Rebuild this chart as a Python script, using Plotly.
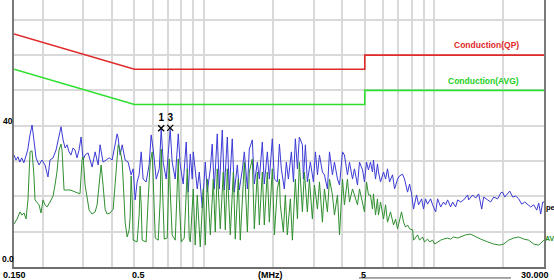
import numpy as np
import plotly.graph_objects as go

# ---------------- data ----------------
peak_mhz = [0.150,0.153,0.156,0.159,0.162,0.1655,0.169,0.172,0.176,0.1797,
            0.183,0.187,0.1926,0.1984,0.2045,0.2107,0.215,0.2216,0.2283,0.2353,
            0.240,0.245,0.250,0.255,0.260,0.265,0.2707,0.276,0.2817,0.2874,
            0.2933,0.2993,0.3053,0.3146,0.321,0.3275,0.3376,0.3478,0.3547,
            0.3654,0.3768,0.3885,0.4002,0.4122,0.4205,0.425,0.4333,0.4424,0.4556,
            0.4695,0.4838,0.4937,0.5037,0.5137,0.5241,0.535,0.5454,0.562,0.5791,
            0.591,0.603,0.6217,0.6408,0.6533,0.6665,0.6868,0.7149,0.7292,0.7518,
            0.775,0.790,0.8142,0.839,0.8563,
            0.874,0.891,0.9005,0.937,0.956,0.9853,1.0156,1.0355,1.0677,1.088,
            1.111,1.1443,1.168,1.2034,1.2284,1.2654,1.2904,1.3297,1.357,1.3988,
            1.4262,1.470,1.500,1.5465,1.5765,1.6245,1.6575,1.7085,1.743,1.7955,
            1.8315,1.888,1.926,1.984,2.026,2.086,2.130,
            2.171,2.237,2.283,2.330,2.401,2.451,2.498,2.551,2.600,2.681,
            2.707,2.762,2.817,2.902,2.993,3.053,3.116,3.179,3.274,3.340,
            3.442,3.514,3.619,3.693,3.806,3.885,4.002,4.081,4.205,4.292,
            4.424,4.510,4.650,4.743,4.890,4.985,5.089,5.189,
            5.293,5.402,5.454,5.568,5.677,5.734,5.853,6.032,6.157,6.276,
            6.408,6.599,6.736,6.939,7.077,7.292,7.441,7.593,7.668,7.826,
            7.984,8.142,8.390,8.563,8.826,8.999,9.179,9.367,9.654,9.853,
            10.156,10.355,10.677,10.998,11.216,11.443,11.794,12.034,12.403,12.654,
            13.035,
            13.440,13.988,14.119,14.703,15.15,15.615,16.095,16.41,17.085,17.61,
            18.135,18.88,19.465,19.843,20.258,20.862,21.297,21.939,22.599,23.298,
            24.008,24.745,25.505,26.266,27.074,27.906,28.453,29.023,29.617,30.0]
peak_dbuv = [31.7,30.3,31.2,29.7,30.9,29.5,31.4,33.1,37.4,40.2,
             36.0,30.9,28.9,30.3,28.9,25.5,30.3,30.9,33.1,37.4,
             39.7,36.0,33.7,34.6,32.6,31.7,33.7,33.1,30.9,33.1,
             36.8,30.3,31.7,32.3,30.3,28.3,32.6,28.9,34.6,
             29.7,30.3,30.9,30.3,34.6,37.7,36.5,31.7,34.6,30.3,
             29.7,26.1,27.8,19.0,24.1,26.1,32.6,24.9,24.1,28.9,
             37.4,33.4,24.9,27.8,39.0,29.7,24.9,39.0,29.7,24.9,
             37.7,28.9,23.5,35.4,21.2,
             32.0,24.9,32.6,22.1,26.9,16.7,29.7,21.2,27.8,34.8,
             22.1,37.7,22.1,38.8,21.8,36.8,21.8,36.3,21.2,28.9,
             21.8,27.5,32.6,22.1,33.4,36.0,23.5,29.7,24.9,35.4,
             23.5,32.6,24.9,36.3,24.9,24.1,34.8,
             27.8,22.1,29.7,24.9,32.6,24.1,36.3,27.8,36.8,34.6,
             24.9,34.6,24.1,29.7,24.1,32.6,26.1,31.7,26.9,26.1,
             22.1,32.6,26.1,29.7,24.9,23.2,32.6,31.7,26.1,29.7,
             24.9,27.8,23.2,29.7,27.5,24.1,29.7,27.5,
             29.7,26.9,30.3,24.9,29.2,26.9,24.1,26.9,24.9,27.8,
             24.1,26.1,22.1,24.9,25.8,26.3,24.9,22.9,21.2,23.5,
             20.7,16.4,20.4,17.6,19.3,16.4,19.3,17.8,19.3,17.6,
             15.6,19.3,17.0,18.4,17.6,19.0,17.0,18.4,17.0,19.0,
             18.4,
             19.0,20.4,19.0,20.4,19.5,20.7,16.4,19.8,19.0,18.4,
             19.8,19.3,21.0,21.2,19.8,20.7,21.5,19.8,20.1,19.3,
             17.8,18.4,17.6,17.0,17.6,16.1,18.1,15.0,18.4,18.4]

avg_mhz = [0.150,0.1547,0.1593,0.1625,0.1658,0.1692,0.1725,0.1743,0.1761,0.1796,
           0.183,0.1851,0.1888,0.1926,0.1965,0.2005,0.2045,0.2086,0.215,0.2216,
           0.226,0.2305,0.2353,0.240,0.2425,0.2474,0.2524,0.2627,0.2707,0.2791,
           0.2902,0.2962,0.2993,0.3053,0.3116,0.3179,0.3275,0.3376,0.3442,0.3514,
           0.3583,
           0.3654,0.3729,0.3806,0.3922,0.4043,0.4164,0.425,0.4333,0.4424,0.451,
           0.4556,0.465,0.4743,0.479,0.4838,0.489,0.4937,0.5137,0.5241,0.5293,
           0.535,0.5402,0.562,0.5734,0.5853,0.5972,0.6091,0.6157,0.6342,0.6468,
           0.6533,0.6599,0.6736,0.6939,0.7077,0.7149,0.7292,0.7518,0.775,0.7826,
           0.7984,0.8225,0.848,0.8563,0.8646,
           0.874,0.9005,0.918,0.937,0.9655,0.9948,1.0156,1.0355,1.0677,1.0998,
           1.1216,1.1443,1.1794,1.2153,1.2404,1.2654,1.3035,1.344,1.370,1.412,
           1.4405,1.4846,1.500,1.5465,1.5765,1.6245,1.6575,1.7085,1.743,1.7955,
           1.8315,1.888,1.926,1.984,2.026,2.086,2.130,
           2.150,2.216,2.260,2.305,2.377,2.425,2.498,2.551,2.600,2.681,
           2.734,2.817,2.874,2.962,3.023,3.116,3.179,3.274,3.340,3.442,
           3.514,3.619,3.693,3.806,3.885,4.002,4.081,4.205,4.292,4.424,
           4.510,4.650,4.743,4.838,4.985,5.089,5.189,
           5.293,5.402,5.454,5.568,5.677,5.734,5.853,6.032,6.157,6.276,
           6.468,6.665,6.802,6.939,7.220,7.369,7.518,7.668,7.826,8.067,
           8.142,8.480,8.646,8.909,9.089,9.367,9.560,9.853,10.052,10.355,
           10.677,10.998,11.443,11.794,12.153,12.654,13.035,
           13.702,14.405,15.15,15.93,17.085,18.135,19.258,20.05,21.07,22.165,
           23.298,24.507,25.743,27.074,28.453,29.332,30.0]
avg_dbuv = [12.2,13.6,15.6,14.7,15.3,13.6,19.0,27.5,32.6,32.9,
            26.1,19.0,18.4,17.6,15.3,19.0,17.6,17.0,18.4,20.1,
            23.2,26.9,33.1,34.8,33.1,21.8,21.8,21.8,21.5,21.2,
            20.7,30.3,31.2,23.2,19.0,16.1,15.0,15.6,17.6,23.2,
            28.9,
            23.2,16.4,15.0,15.3,16.4,27.5,34.6,33.1,29.7,19.0,
            12.7,8.5,10.5,14.2,25.8,19.0,7.6,7.1,14.7,22.9,
            17.6,7.6,7.1,19.0,29.5,32.6,19.0,8.2,7.6,19.0,
            33.4,24.6,7.9,8.2,30.6,21.8,9.1,7.6,30.6,19.0,
            7.1,8.2,27.8,19.0,7.9,
            7.1,22.1,6.2,20.4,5.7,22.1,6.2,24.9,9.1,24.9,
            9.9,27.8,10.8,26.9,10.5,27.8,9.1,26.9,7.9,24.9,
            7.6,26.1,29.7,9.9,26.9,30.6,10.8,26.9,11.9,26.9,
            11.9,26.9,12.7,27.8,9.1,22.1,24.9,
            17.6,9.9,20.4,9.1,19.3,7.6,24.9,13.6,29.7,15.6,
            26.9,15.6,24.9,13.6,23.2,16.4,24.1,12.7,22.1,15.6,
            24.9,20.4,14.7,20.4,9.1,24.9,17.6,24.9,18.4,22.1,
            20.4,17.6,22.1,19.3,15.6,24.1,20.4,
            20.4,16.4,20.7,14.7,19.3,14.7,18.4,13.6,17.6,12.7,
            15.6,11.9,13.6,10.8,15.6,12.7,11.3,11.9,10.8,10.5,
            7.6,9.1,7.6,8.5,7.1,7.9,7.1,7.6,6.5,7.1,
            7.6,7.9,8.2,7.9,8.5,8.2,8.5,
            9.1,9.3,8.5,7.9,7.1,6.5,6.2,6.5,7.6,8.2,
            8.5,7.9,7.6,6.5,6.2,7.1,7.6]

limit_mhz = [0.15, 0.5, 5, 5, 30]
qp_limit_dbuv = [66, 56, 56, 60, 60]
avg_limit_dbuv = [56, 46, 46, 50, 50]

marker_mhz = [0.6533, 0.7149]
marker_dbuv = [39.3, 39.4]
marker_labels = ["1", "3"]

grid_mhz = [0.2, 0.3, 0.4, 0.5, 0.6, 0.7, 0.8, 0.9, 1, 2, 3, 4, 5, 6, 7, 8, 9, 10, 20]
grid_dbuv = [0, 10, 20, 30, 40, 50, 60, 70]
x_tick_text = ["0.150", "0.5", "(MHz)", "5", "30.000"]
y_tick_text = ["40", "0.0"]

# ---------------- figure ----------------
FONT = "Liberation Sans"
fig = go.Figure()

fig.add_trace(go.Scatter(x=limit_mhz, y=qp_limit_dbuv, mode="lines",
                         line=dict(color="#e02a2a", width=1.6), hoverinfo="skip"))
fig.add_trace(go.Scatter(x=limit_mhz, y=avg_limit_dbuv, mode="lines",
                         line=dict(color="#2ee02e", width=1.6), hoverinfo="skip"))
fig.add_trace(go.Scatter(x=peak_mhz, y=peak_dbuv, mode="lines",
                         line=dict(color="#3b3bd6", width=1)))
fig.add_trace(go.Scatter(x=avg_mhz, y=avg_dbuv, mode="lines",
                         line=dict(color="#2f8f2f", width=1)))
fig.add_trace(go.Scatter(x=marker_mhz, y=marker_dbuv, mode="markers+text",
                         text=["<b>%s</b>" % s for s in marker_labels],
                         textposition="top center",
                         textfont=dict(family=FONT, size=10, color="black"),
                         marker=dict(symbol="x-thin", size=6,
                                     line=dict(width=1.3, color="black"))))

fig.update_layout(
    width=554, height=280,
    margin=dict(l=14, r=10, t=0, b=13),
    paper_bgcolor="white", plot_bgcolor="white",
    showlegend=False,
)
fig.update_xaxes(type="log", range=[np.log10(0.15), np.log10(30)],
                 tickvals=grid_mhz, showticklabels=False, ticks="",
                 showgrid=True, gridcolor="#d9d9d9", gridwidth=1.5,
                 zeroline=False, showline=True, linecolor="#6e6e6e", linewidth=2)
fig.update_yaxes(range=[0, 75.6], tickvals=grid_dbuv, showticklabels=False, ticks="",
                 showgrid=True, gridcolor="#d9d9d9", gridwidth=1.5,
                 zeroline=False, showline=True, linecolor="#7a7a7a", linewidth=2,
                 mirror=True)

PW = 530.0  # plot width in px, used only to place text
def px(xp):
    return (xp - 14) / PW

ann = []
x_label_px = [14, 138, 270, 363, 535]
for xp, t in zip(x_label_px, x_tick_text):
    ann.append(dict(x=px(xp), xref="paper", y=-0.03, yref="paper",
                    text="<b>%s</b>" % t, showarrow=False, xanchor="center",
                    yanchor="middle", font=dict(family=FONT, size=9, color="black")))
for (xp, yv), t in zip([(1, 41.3), (0, 2.3)], y_tick_text):
    ann.append(dict(x=px(xp), xref="paper", y=yv, yref="y",
                    text="<b>%s</b>" % t, showarrow=False, xanchor="left",
                    yanchor="middle", font=dict(family=FONT, size=8.5, color="black")))
ann.append(dict(x=px(521), xref="paper", y=62.8, yref="y", text="<b>Conduction(QP)</b>",
                showarrow=False, xanchor="right", yanchor="middle",
                font=dict(family=FONT, size=8.5, color="#e02a2a")))
ann.append(dict(x=px(521), xref="paper", y=52.7, yref="y", text="<b>Conduction(AVG)</b>",
                showarrow=False, xanchor="right", yanchor="middle",
                font=dict(family=FONT, size=8.5, color="#22d022")))
ann.append(dict(x=px(543.5), xref="paper", y=16.8, yref="y", text="<b>pe</b>",
                showarrow=False, xanchor="left", yanchor="middle",
                font=dict(family=FONT, size=7.5, color="black")))
ann.append(dict(x=px(542.5), xref="paper", y=8.2, yref="y", text="<b>AV</b>",
                showarrow=False, xanchor="left", yanchor="middle",
                font=dict(family=FONT, size=7, color="#1f8f1f")))
fig.update_layout(annotations=ann)

fig.add_shape(type="line", xref="paper", yref="paper",
              x0=px(359), x1=px(511), y0=-0.041, y1=-0.041,
              line=dict(color="#505050", width=1))

fig.write_html("out.html")
